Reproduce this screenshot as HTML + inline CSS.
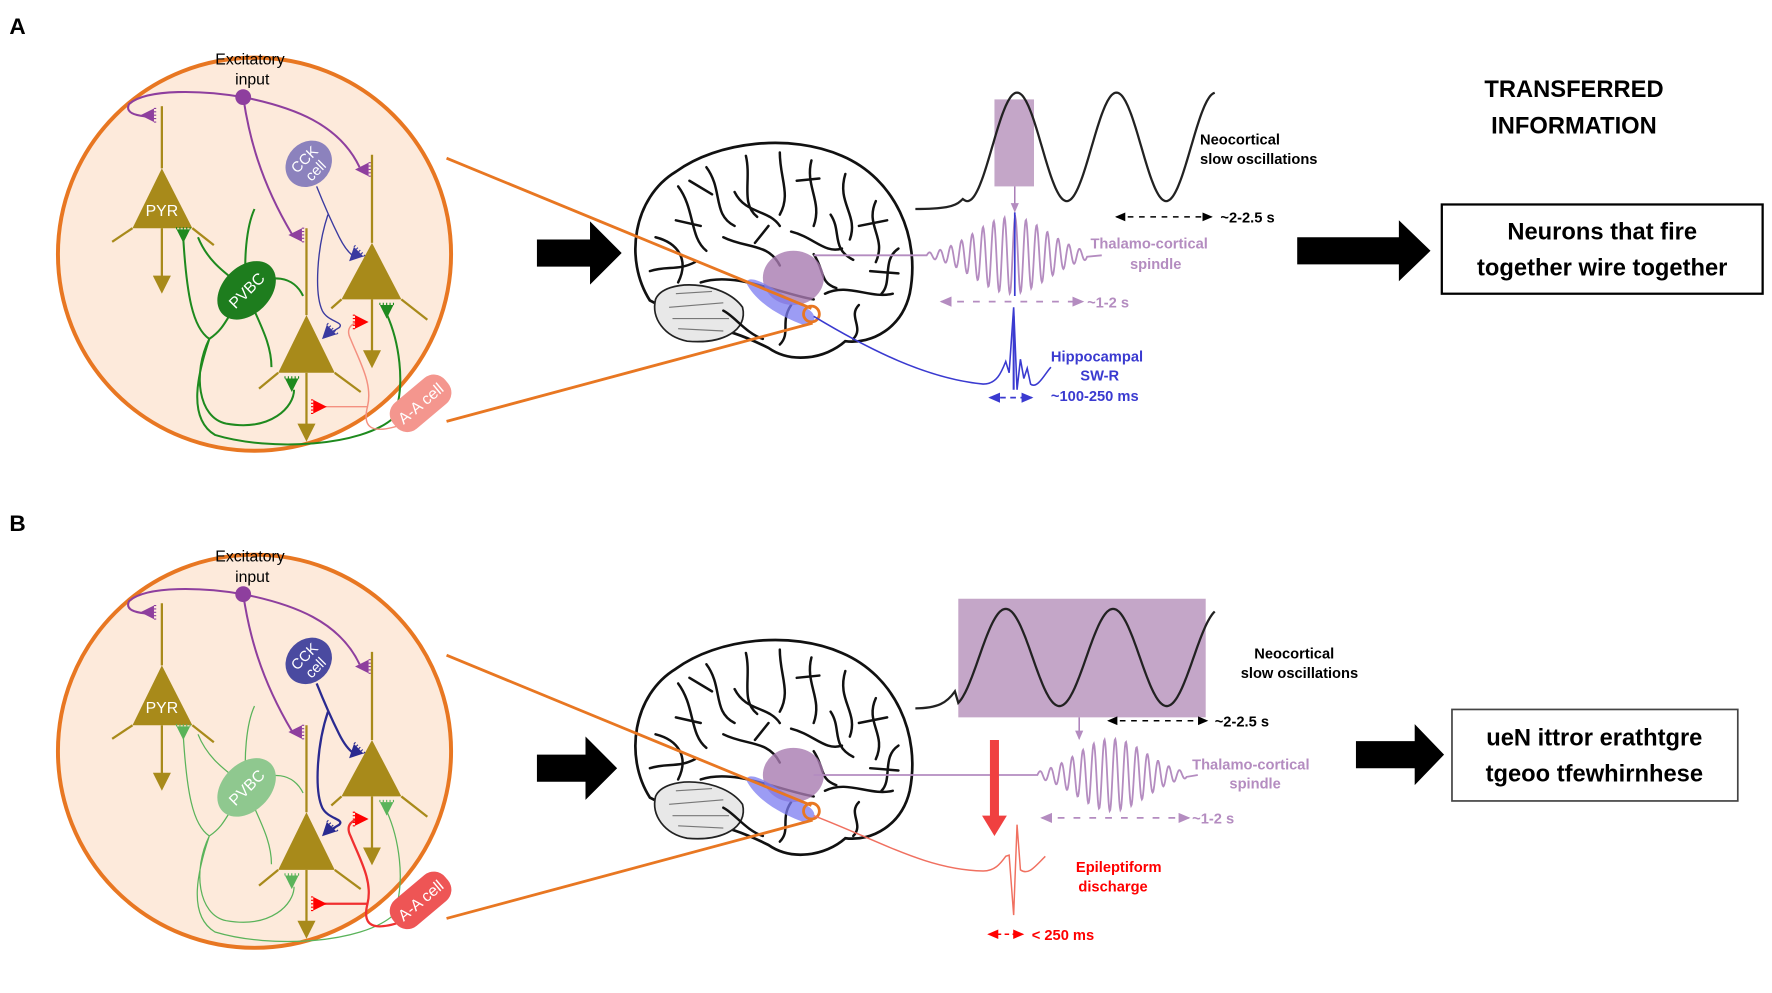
<!DOCTYPE html>
<html><head><meta charset="utf-8"><style>
html,body{margin:0;padding:0;background:#fff}
svg{display:block}
text{font-family:"Liberation Sans",sans-serif}
</style></head><body>
<svg id="s" width="1772" height="993" viewBox="0 0 1568 879" xmlns="http://www.w3.org/2000/svg">
<defs>
<marker id="ak" markerWidth="8" markerHeight="8" refX="6" refY="4" orient="auto-start-reverse"><path d="M0,1 L7,4 L0,7 Z" fill="#000"/></marker>
<marker id="ap" markerWidth="8" markerHeight="8" refX="6" refY="4" orient="auto-start-reverse"><path d="M0,1 L7,4 L0,7 Z" fill="#b48cc0"/></marker>
<marker id="ab" markerWidth="8" markerHeight="8" refX="6" refY="4" orient="auto-start-reverse"><path d="M0,1 L7,4 L0,7 Z" fill="#3a3ad0"/></marker>
<marker id="ar" markerWidth="8" markerHeight="8" refX="6" refY="4" orient="auto-start-reverse"><path d="M0,1 L7,4 L0,7 Z" fill="#f00"/></marker>
<marker id="ao" markerWidth="8" markerHeight="8" refX="5" refY="4" orient="auto"><path d="M0,0 L8,4 L0,8 Z" fill="#a88a1a"/></marker>
</defs>
<g id="g"></g>
<text x="8" y="30" font-size="20" font-weight="bold">A</text>
<text x="8" y="470" font-size="20" font-weight="bold">B</text>
<text x="1393" y="86" font-size="21" font-weight="bold" text-anchor="middle">TRANSFERRED</text>
<text x="1393" y="118" font-size="21" font-weight="bold" text-anchor="middle">INFORMATION</text>
<rect x="1276" y="181" width="284" height="79" fill="#fff" stroke="#000" stroke-width="2"/>
<text x="1418" y="212" font-size="21" font-weight="bold" text-anchor="middle">Neurons that fire</text>
<text x="1418" y="244" font-size="21" font-weight="bold" text-anchor="middle">together wire together</text>
<rect x="1285" y="628" width="253" height="81" fill="#fff" stroke="#444" stroke-width="1.5"/>
<text x="1411" y="660" font-size="21" font-weight="bold" text-anchor="middle">ueN ittror erathtgre</text>
<text x="1411" y="692" font-size="21" font-weight="bold" text-anchor="middle">tgeoo tfewhirnhese</text>
<path d="M475,212 H522 V196 L550,224 L522,252 V236 H475 Z" fill="#000"/>
<path d="M475,668 H518 V652 L546,680 L518,708 V692 H475 Z" fill="#000"/>
<path d="M1148,210 H1238 V195 L1266,222 L1238,249 V234 H1148 Z" fill="#000"/>
<path d="M1200,656 H1252 V641 L1278,668 L1252,695 V680 H1200 Z" fill="#000"/>
<rect x="880" y="88" width="35" height="77" fill="#c4a6c8"/>
<path id="slowA" fill="none" stroke="#222" stroke-width="2"/>
<line x1="898" y1="165" x2="898" y2="187" stroke="#a070b0" stroke-width="1.2" marker-end="url(#ap)"/>
<text x="1062" y="128" font-size="13" font-weight="bold">Neocortical</text>
<text x="1062" y="145" font-size="13" font-weight="bold">slow oscillations</text>
<line x1="988" y1="192" x2="1072" y2="192" stroke="#000" stroke-width="1.3" stroke-dasharray="5,5" marker-start="url(#ak)" marker-end="url(#ak)"/>
<text x="1080" y="197" font-size="13" font-weight="bold">~2-2.5 s</text>
<path id="spA" fill="none" stroke="#b48cc0" stroke-width="1.6"/>
<line x1="898" y1="188" x2="898" y2="262" stroke="#3a3ad0" stroke-width="1.5"/>
<text x="965" y="220" font-size="13" fill="#b48cc0" font-weight="bold">Thalamo-cortical</text>
<text x="1000" y="238" font-size="13" fill="#b48cc0" font-weight="bold">spindle</text>
<line x1="833" y1="267" x2="958" y2="267" stroke="#b48cc0" stroke-width="1.5" stroke-dasharray="6,8" marker-start="url(#ap)" marker-end="url(#ap)"/>
<text x="962" y="272" font-size="13" fill="#b48cc0" font-weight="bold">~1-2 s</text>
<path d="M720,280 C770,310 820,335 870,340 C882,340 886,330 890,320 L893,330 L897,272 L900,345 L903,318 L906,335 L909,326 L912,340 C918,345 925,330 930,325" fill="none" stroke="#3a3ad0" stroke-width="1.4"/>
<line x1="897" y1="280" x2="897" y2="345" stroke="#3a3ad0" stroke-width="1.8"/>
<text x="930" y="320" font-size="13" fill="#3a3ad0" font-weight="bold">Hippocampal</text>
<text x="956" y="337" font-size="13" fill="#3a3ad0" font-weight="bold">SW-R</text>
<line x1="876" y1="352" x2="913" y2="352" stroke="#3a3ad0" stroke-width="1.5" stroke-dasharray="5,4" marker-start="url(#ab)" marker-end="url(#ab)"/>
<text x="930" y="355" font-size="13" fill="#3a3ad0" font-weight="bold">~100-250 ms</text>
<rect x="848" y="530" width="219" height="105" fill="#c4a6c8"/>
<path id="slowB" fill="none" stroke="#222" stroke-width="2"/>
<line x1="955" y1="635" x2="955" y2="654" stroke="#a070b0" stroke-width="1.2" marker-end="url(#ap)"/>
<text x="1110" y="583" font-size="13" font-weight="bold">Neocortical</text>
<text x="1098" y="600" font-size="13" font-weight="bold">slow oscillations</text>
<line x1="981" y1="638" x2="1068" y2="638" stroke="#000" stroke-width="1.3" stroke-dasharray="5,5" marker-start="url(#ak)" marker-end="url(#ak)"/>
<text x="1075" y="643" font-size="13" font-weight="bold">~2-2.5 s</text>
<path id="spB" fill="none" stroke="#b48cc0" stroke-width="1.6"/>
<text x="1055" y="681" font-size="13" fill="#b48cc0" font-weight="bold">Thalamo-cortical</text>
<text x="1088" y="698" font-size="13" fill="#b48cc0" font-weight="bold">spindle</text>
<line x1="922" y1="724" x2="1052" y2="724" stroke="#b48cc0" stroke-width="1.5" stroke-dasharray="6,8" marker-start="url(#ap)" marker-end="url(#ap)"/>
<text x="1055" y="729" font-size="13" fill="#b48cc0" font-weight="bold">~1-2 s</text>
<path d="M876,655 V722 H869 L880,740 L891,722 H884 V655 Z" fill="#f04040"/>
<path d="M720,722 C780,745 820,770 870,771 C880,771 885,765 890,758 L893,757 L897,810 L900,730 L903,770 C910,775 915,768 925,758" fill="none" stroke="#f07060" stroke-width="1.3"/>
<text x="990" y="772" font-size="13" fill="#f00" font-weight="bold" text-anchor="middle">Epileptiform</text>
<text x="985" y="789" font-size="13" fill="#f00" font-weight="bold" text-anchor="middle">discharge</text>
<line x1="875" y1="827" x2="905" y2="827" stroke="#f00" stroke-width="1.4" stroke-dasharray="4,3" marker-start="url(#ar)" marker-end="url(#ar)"/>
<text x="913" y="832" font-size="13" fill="#f00" font-weight="bold">&lt; 250 ms</text>
</svg>
<script>
function wave(x0,x1,yc,A,per,peak){var d='';for(var x=x0;x<=x1;x+=1){var y=yc-A*Math.cos(2*Math.PI*(x-peak)/per);d+=(d?'L':'M')+x+','+y.toFixed(1);}return d;}
document.getElementById('slowA').setAttribute('d','M810,185 C835,185 845,183 850,178 '+wave(852,1075,130,48,88,900).replace('M','L'));
document.getElementById('slowB').setAttribute('d','M810,627 C830,627 838,622 845,612 '+wave(848,1075,582,43,95,890).replace('M','L'));
function spindle(xs,x0,x1,yc,c,sig,A,per,xe){var d='M'+xs+','+yc+' L'+x0+','+yc;for(var x=x0;x<=x1;x+=0.5){var e=Math.exp(-Math.pow((x-c)/sig,2)/2);var y=yc-A*e*Math.sin(2*Math.PI*(x-x0)/per);d+='L'+x+','+y.toFixed(1);}d+='L'+xe+','+yc;return d;}
document.getElementById('spA').setAttribute('d',spindle(720,820,962,226,895,32,34,9.5,975));
document.getElementById('spB').setAttribute('d',spindle(720,918,1050,686,984,30,32,9.5,1060));
function brain(dy,tc){
 var s='<g transform="translate(0,'+dy+')">';
 s+='<path d="M575,706 C552,670 560,615 598,592 C635,565 700,558 745,578 C792,598 815,650 805,700 C798,730 772,745 748,742 C730,758 700,762 680,748 C660,738 640,730 622,730 Z" fill="#fff" stroke="#111" stroke-width="2.4"/>';
 s+='<path d="M580,705 C588,686 640,688 657,712 C662,732 640,745 608,742 C588,738 576,722 580,705 Z" fill="#e8e8e8" stroke="#222" stroke-width="1.5"/>';
 s+='<path d="M592,712 L640,708 M595,722 L645,722 M600,731 L640,733 M598,700 L630,698" stroke="#777" stroke-width="1" fill="none"/>';
 var gy=['M600,605 C615,625 610,650 625,662','M625,588 C640,608 630,630 650,640','M660,578 C665,600 655,620 670,632','M690,575 C690,598 700,612 690,630','M718,582 C712,605 728,618 720,640','M748,594 C740,620 760,630 752,652','M775,618 C765,640 785,650 775,672','M795,660 C780,670 790,690 780,700','M580,650 C600,655 610,670 600,690','M640,650 C660,660 680,655 690,675','M700,645 C720,650 730,665 745,660','M620,690 C650,680 690,700 720,705','M730,700 C750,690 770,705 790,700','M700,710 C690,725 700,735 690,745','M760,710 C750,720 765,730 755,740','M650,610 C660,630 680,625 690,640','M735,630 C745,645 735,660 755,670','M598,635 L620,640','M575,680 C590,675 600,680 615,672','M610,600 L630,612','M705,600 L725,598','M760,640 L785,635','M668,655 L680,640','M720,665 C730,680 725,690 740,695','M770,680 L795,682','M640,715 C650,720 660,735 675,740'];
 for(var i=0;i<gy.length;i++)s+='<path d="'+gy[i]+'" stroke="#111" stroke-width="2.2" fill="none" stroke-linecap="round"/>';
 s+='<ellipse cx="702" cy="686" rx="27" ry="24" fill="'+tc+'" opacity="0.8"/>';
 s+='<path d="M660,690 C665,680 690,700 712,712 C725,718 722,728 712,728 C695,722 670,710 660,690 Z" fill="#7b7bf0" opacity="0.75"/>';
 s+='</g>';return s;}
function circuit(dy,o){
 var s='<g transform="translate(0,'+dy+')">';
 s+='<circle cx="225" cy="225" r="174" fill="#fdeadb" stroke="#e87722" stroke-width="3.5"/>';
 s+='<text x="221" y="57" font-size="14" text-anchor="middle">Excitatory</text><text x="223" y="75" font-size="14" text-anchor="middle">input</text>';
 s+='<path d="M215,86 C180,80 130,78 114,92 C110,100 120,102 128,103 M215,86 C260,95 300,110 318,148 M215,86 C220,120 230,160 258,207" fill="none" stroke="#8e3f9e" stroke-width="1.8"/>';
 s+='<circle cx="215" cy="86" r="7" fill="#8e3f9e"/>';
 function syn(x,y,ang,c){return '<g transform="translate('+x+','+y+') rotate('+ang+')"><path d="M-6,-6 L6,-6 L0,6 Z" fill="'+c+'"/><path d="M-6,-8 L-6,-6 M-3,-8 L-3,-6 M0,-8 L0,-6 M3,-8 L3,-6 M6,-8 L6,-6" stroke="'+c+'"/></g>';}
 s+=syn(130,102,90,'#8e3f9e')+syn(261,208,90,'#8e3f9e')+syn(320,150,90,'#8e3f9e');
 function pyr(ax,ay,bl,br,by,top,bot,l1,r1){return '<line x1="'+ax+'" y1="'+top+'" x2="'+ax+'" y2="'+ay+'" stroke="#a88a1a" stroke-width="2"/><path d="M'+ax+','+ay+' L'+br+','+by+' L'+bl+','+by+' Z" fill="#a88a1a"/><line x1="'+bl+'" y1="'+by+'" x2="'+l1[0]+'" y2="'+l1[1]+'" stroke="#a88a1a" stroke-width="2"/><line x1="'+br+'" y1="'+by+'" x2="'+r1[0]+'" y2="'+r1[1]+'" stroke="#a88a1a" stroke-width="2"/><line x1="'+ax+'" y1="'+by+'" x2="'+ax+'" y2="'+bot+'" stroke="#a88a1a" stroke-width="2" marker-end="url(#ao)"/>';}
 s+=pyr(143,149,117,170,202,94,254,[99,214],[189,217]);
 s+=pyr(271,279,246,296,330,202,385,[229,344],[319,347]);
 s+=pyr(329,215,302,355,265,137,320,[293,273],[378,283]);
 s+='<text x="143" y="191" font-size="14" fill="#fff" text-anchor="middle">PYR</text>';
 s+='<path d="M162,212 C165,260 170,290 185,300 C170,330 175,370 200,375 C240,382 260,360 260,345 M185,300 C175,330 165,370 190,385 C240,400 320,395 348,370 C360,340 352,300 342,278 M218,257 C225,280 240,300 240,325 M218,257 C205,245 185,235 175,210 M218,257 C215,230 218,200 225,185 M218,257 C240,240 260,245 268,262 M218,257 C200,280 200,290 185,300" fill="none" stroke="'+o.g+'" stroke-width="'+o.gw+'"/>';
 s+='<g transform="translate(218,257) rotate(-45)"><ellipse rx="30" ry="21" fill="'+o.gf+'"/><text y="5" font-size="14" fill="#fff" text-anchor="middle">PVBC</text></g>';
 s+=syn(162,209,0,o.g)+syn(258,341,0,o.g)+syn(342,276,0,o.g);
 s+='<path d="M280,165 C290,190 295,200 300,210 C305,220 310,225 313,227 M290,190 C280,220 278,260 285,275 C290,285 305,285 300,290 L290,296" fill="none" stroke="'+o.b+'" stroke-width="'+o.bw+'"/>';
 s+='<g transform="translate(273,145) rotate(-45)"><ellipse rx="22" ry="19" fill="'+o.bf+'"/><text y="-1" font-size="13" fill="#fff" text-anchor="middle">CCK</text><text y="13" font-size="13" fill="#fff" text-anchor="middle">cell</text></g>';
 s+=syn(313,227,45,o.b)+syn(289,296,45,o.b);
 s+='<path d="M358,375 C330,385 320,380 325,360 C330,340 318,320 310,300 C305,290 312,285 320,285 M325,360 C310,360 295,360 284,360" fill="none" stroke="'+o.r+'" stroke-width="'+o.rw+'"/>';
 s+='<g transform="translate(372,357) rotate(-40)"><rect x="-30" y="-15" width="60" height="30" rx="13" fill="'+o.rf+'"/><text y="5" font-size="14" fill="#fff" text-anchor="middle">A-A cell</text></g>';
 s+=syn(320,285,-90,'#f00')+syn(283,360,-90,'#f00');
 s+='</g>';
 s+='<line x1="395" y1="'+(140+dy)+'" x2="718" y2="'+(273+dy)+'" stroke="#e87722" stroke-width="2.5"/><line x1="395" y1="'+(373+dy)+'" x2="719" y2="'+(286+dy)+'" stroke="#e87722" stroke-width="2.5"/>';
 return s;}
var g=document.getElementById('g');
var h='';
h+=brain(-440,'#a87ab0')+brain(0,'#a87ab0');
h+=circuit(0,{g:'#1e8a1e',gw:1.8,gf:'#1e7d1e',b:'#3a3aa0',bw:1.2,bf:'#8c82bd',r:'#f49080',rw:1.3,rf:'#f4968e'});
h+=circuit(440,{g:'#5ab35a',gw:1.1,gf:'#8fc88f',b:'#2a2a90',bw:2,bf:'#4a4aa0',r:'#f03030',rw:2,rf:'#ee5555'});
h+='<circle cx="718" cy="278" r="7" fill="none" stroke="#e87722" stroke-width="2.5"/><circle cx="718" cy="718" r="7" fill="none" stroke="#e87722" stroke-width="2.5"/>';
g.innerHTML=h;
</script>
</body></html>
